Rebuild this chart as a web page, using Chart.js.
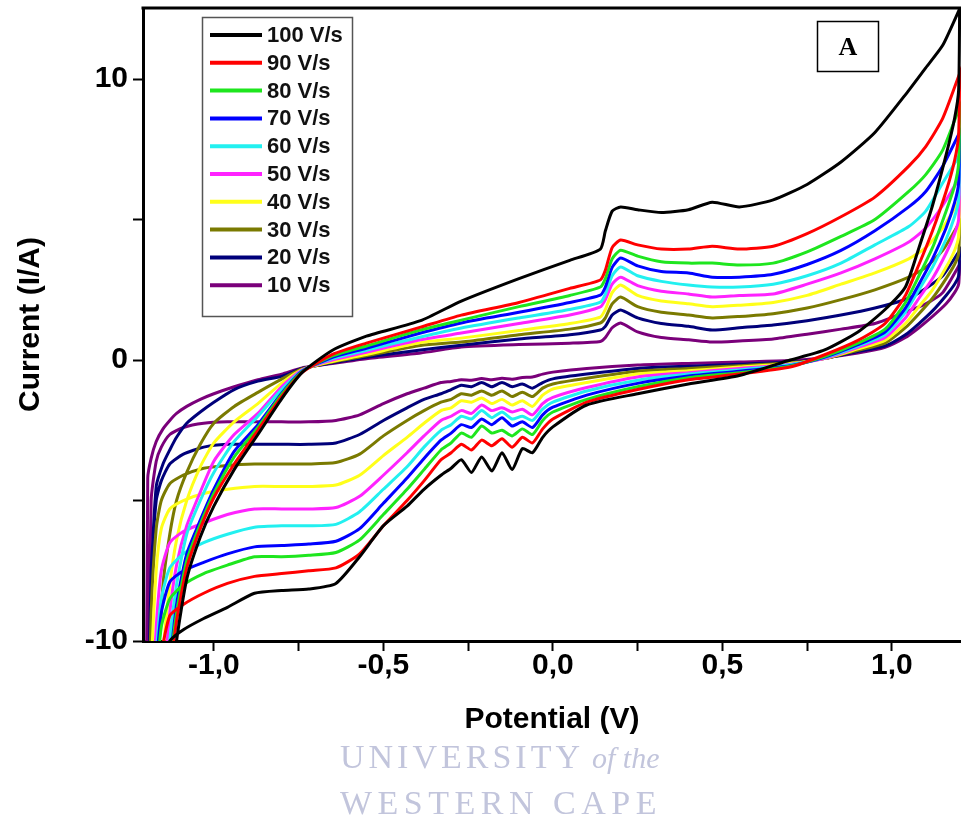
<!DOCTYPE html>
<html>
<head>
<meta charset="utf-8">
<script src="https://cdn.jsdelivr.net/npm/chart.js@4.4.1/dist/chart.umd.min.js"></script>
<style>
  html, body { margin: 0; padding: 0; background: #fff; }
  #wrap { width: 961px; height: 821px; }
</style>
</head>
<body>
<div id="wrap"><canvas id="cv" width="961" height="821"></canvas></div>
<script>
// ---------------- DATA ----------------
const scanRates = ['100 V/s', '90 V/s', '80 V/s', '70 V/s', '60 V/s', '50 V/s', '40 V/s', '30 V/s', '20 V/s', '10 V/s'];

// potential (V) of the anodic (forward) sweep, -1.2 -> 1.2
const potentialForward = [-1.2, -1.195, -1.185, -1.17, -1.15, -1.13, -1.11, -1.08, -1.04, -1.0, -0.94, -0.87, -0.8, -0.74,
  -0.65, -0.55, -0.39, -0.27, -0.1, 0.05, 0.14, 0.155, 0.175, 0.2, 0.25, 0.32, 0.4, 0.47, 0.55, 0.65, 0.75, 0.85, 0.95, 1.05, 1.1, 1.15, 1.2];

// potential (V) of the cathodic (reverse) sweep, 1.2 -> -1.2
const potentialReverse = [1.2, 1.197, 1.185, 1.16, 1.12, 1.08, 1.04, 0.98, 0.9, 0.8, 0.7, 0.55, 0.4, 0.25, 0.1, 0.0,
  -0.03, -0.06, -0.09, -0.12, -0.15, -0.18, -0.21, -0.24, -0.27, -0.3, -0.33, -0.38, -0.43, -0.5, -0.57, -0.64,
  -0.72, -0.8, -0.88, -0.96, -1.03, -1.09, -1.13, -1.155, -1.17, -1.185, -1.2];

// current (I/A), forward sweeps
const fwd100 = [-16, -16, -16, -16, -16, -12.5, -10, -7.8, -6.3, -5.2, -3.9, -2.65, -1.38, -0.45,
  0.35, 0.85, 1.4, 2.1, 2.9, 3.55, 3.95, 4.6, 5.3, 5.45, 5.35, 5.25, 5.35, 5.62, 5.45, 5.7, 6.25, 7.05, 8.1, 9.6, 10.4, 11.2, 12.5];
const fwd90 = [-16, -16, -16, -16, -16, -11.5, -9.3, -7.4, -6.0, -4.9, -3.7, -2.5, -1.3, -0.45,
  0.2, 0.6, 1.17, 1.6, 2.05, 2.55, 2.85, 3.2, 4.0, 4.27, 4.1, 3.95, 3.95, 4.05, 3.95, 4.05, 4.5, 5.1, 5.8, 6.9, 7.6, 8.6, 10.2];
const fwd80 = [-16, -16, -16, -16, -16, -11.2, -9.0, -7.15, -5.85, -4.75, -3.45, -2.4, -1.22, -0.42,
  0.15, 0.5, 1.07, 1.42, 1.9, 2.3, 2.6, 2.9, 3.6, 3.91, 3.7, 3.5, 3.45, 3.45, 3.38, 3.45, 3.85, 4.4, 5.0, 6.0, 6.6, 7.47, 9.0];
const fwd70 = [-16, -16, -16, -16, -16, -11, -8.7, -6.9, -5.7, -4.6, -3.25, -2.3, -1.18, -0.4,
  0.1, 0.42, 0.96, 1.32, 1.7, 2.05, 2.31, 2.6, 3.3, 3.63, 3.35, 3.15, 3.1, 2.95, 2.95, 3.05, 3.4, 3.9, 4.6, 5.45, 6.0, 6.9, 8.1];
const fwd60 = [-16, -16, -16, -16, -14, -10, -8.0, -6.2, -5.0, -4.0, -2.9, -2.0, -1.05, -0.38,
  0.05, 0.35, 0.82, 1.14, 1.5, 1.8, 2.06, 2.35, 3.0, 3.31, 3.0, 2.8, 2.67, 2.6, 2.6, 2.7, 3.0, 3.45, 4.1, 4.75, 5.3, 6.3, 7.3];
const fwd50 = [-16, -16, -16, -16, -12, -9.0, -7.3, -5.9, -4.7, -3.6, -2.65, -1.9, -0.95, -0.36,
  0.0, 0.28, 0.72, 0.96, 1.3, 1.6, 1.89, 2.15, 2.7, 2.95, 2.65, 2.45, 2.35, 2.24, 2.3, 2.35, 2.7, 3.1, 3.6, 4.2, 4.7, 5.5, 6.5];
const fwd40 = [-16, -16, -16, -16, -10.5, -8.0, -6.4, -5.0, -3.8, -2.95, -2.2, -1.55, -0.82, -0.34,
  -0.05, 0.2, 0.62, 0.78, 1.05, 1.3, 1.53, 1.8, 2.4, 2.67, 2.3, 2.1, 2.0, 1.9, 1.95, 2.05, 2.3, 2.7, 3.1, 3.6, 4.0, 4.7, 5.7];
const fwd30 = [-16, -16, -16, -12, -8.0, -6.2, -5.0, -4.0, -3.0, -2.25, -1.65, -1.15, -0.68, -0.32,
  -0.07, 0.15, 0.52, 0.64, 0.9, 1.1, 1.32, 1.5, 2.0, 2.24, 1.9, 1.7, 1.6, 1.5, 1.55, 1.65, 1.85, 2.15, 2.5, 2.95, 3.3, 3.9, 4.9];
const fwd20 = [-16, -13, -8, -4.5, -3.7, -3.2, -2.75, -2.25, -1.85, -1.5, -1.05, -0.75, -0.58, -0.3,
  -0.1, 0.1, 0.36, 0.53, 0.75, 0.9, 1.07, 1.2, 1.6, 1.78, 1.5, 1.3, 1.2, 1.07, 1.15, 1.25, 1.4, 1.6, 1.85, 2.2, 2.55, 3.0, 3.9];
const fwd10 = [-16, -4.2, -3.5, -2.9, -2.45, -2.15, -1.9, -1.65, -1.4, -1.2, -0.95, -0.7, -0.5, -0.28,
  -0.12, 0.05, 0.25, 0.46, 0.55, 0.6, 0.66, 0.8, 1.15, 1.32, 1.0, 0.8, 0.72, 0.64, 0.68, 0.75, 0.92, 1.1, 1.3, 1.75, 2.0, 2.4, 3.4];

// current (I/A), reverse sweeps
const rev100 = [12.5, 9.6, 8.6, 7.3, 5.5, 4.0, 2.6, 1.8, 1.0, 0.35, 0.0, -0.55, -0.85, -1.2, -1.6, -2.38,
  -2.75, -3.3, -3.15, -3.9, -3.3, -3.95, -3.45, -4.0, -3.55, -3.85, -4.1, -4.6, -5.2, -5.9, -7.0, -7.95,
  -8.15, -8.2, -8.3, -8.8, -9.2, -9.6, -10.0, -10.8, -12, -14, -16];
const rev90 = [10.2, 8.0, 7.1, 6.0, 4.6, 3.4, 2.3, 1.3, 0.7, 0.18, -0.25, -0.5, -0.7, -1.05, -1.5, -2.1,
  -2.45, -2.95, -2.75, -3.1, -2.8, -3.05, -2.85, -3.2, -3.0, -3.3, -3.55, -4.3, -5.0, -5.9, -6.9, -7.4,
  -7.5, -7.6, -7.7, -7.95, -8.3, -8.7, -9.1, -10.5, -12.5, -14.5, -16];
const rev80 = [9.0, 7.0, 6.2, 5.3, 4.0, 3.0, 2.05, 1.1, 0.6, 0.12, -0.22, -0.45, -0.63, -0.95, -1.4, -1.85,
  -2.15, -2.65, -2.45, -2.7, -2.5, -2.6, -2.35, -2.75, -2.6, -2.95, -3.2, -3.9, -4.6, -5.5, -6.4, -6.85,
  -6.95, -7.0, -7.0, -7.3, -7.6, -8.0, -8.5, -9.5, -11.5, -14, -16];
const rev70 = [8.1, 6.3, 5.6, 4.7, 3.6, 2.7, 1.85, 1.0, 0.55, 0.1, -0.2, -0.4, -0.57, -0.83, -1.25, -1.68,
  -1.95, -2.4, -2.2, -2.35, -2.05, -2.3, -2.1, -2.4, -2.3, -2.6, -2.85, -3.5, -4.2, -5.1, -6.0, -6.45,
  -6.55, -6.6, -6.65, -6.9, -7.2, -7.5, -7.9, -9.0, -11, -14, -16];
const rev60 = [7.3, 5.7, 5.1, 4.3, 3.3, 2.5, 1.7, 0.9, 0.5, 0.08, -0.17, -0.35, -0.5, -0.72, -1.1, -1.5,
  -1.75, -2.15, -2.0, -2.1, -1.85, -2.05, -1.8, -2.1, -2.0, -2.3, -2.5, -3.1, -3.8, -4.6, -5.4, -5.85,
  -5.9, -5.9, -5.95, -6.2, -6.5, -6.9, -7.4, -8.5, -10.5, -14, -16];
const rev50 = [6.5, 5.0, 4.5, 3.8, 2.9, 2.2, 1.5, 0.8, 0.45, 0.05, -0.15, -0.3, -0.45, -0.6, -0.98, -1.33,
  -1.55, -1.95, -1.75, -1.85, -1.7, -1.8, -1.6, -1.9, -1.8, -2.0, -2.15, -2.7, -3.3, -4.1, -4.85, -5.25,
  -5.3, -5.3, -5.3, -5.5, -5.8, -6.1, -6.5, -7.5, -9.5, -13, -16];
const rev40 = [5.7, 4.4, 3.9, 3.3, 2.5, 1.9, 1.3, 0.7, 0.4, 0.05, -0.12, -0.25, -0.38, -0.5, -0.8, -1.03,
  -1.25, -1.65, -1.45, -1.6, -1.4, -1.55, -1.35, -1.5, -1.45, -1.7, -1.8, -2.25, -2.75, -3.4, -4.1, -4.45,
  -4.5, -4.5, -4.5, -4.6, -4.75, -5.0, -5.3, -6.0, -7.5, -11, -16];
const rev30 = [4.9, 3.8, 3.4, 2.9, 2.2, 1.65, 1.15, 0.6, 0.35, 0.05, -0.1, -0.2, -0.3, -0.4, -0.65, -0.85,
  -1.0, -1.3, -1.15, -1.3, -1.1, -1.25, -1.1, -1.25, -1.2, -1.4, -1.5, -1.8, -2.15, -2.7, -3.35, -3.65,
  -3.7, -3.7, -3.7, -3.75, -3.85, -4.1, -4.4, -5.0, -6.0, -9, -16];
const rev20 = [3.9, 3.0, 2.7, 2.3, 1.75, 1.3, 0.9, 0.5, 0.3, 0.05, -0.07, -0.15, -0.22, -0.3, -0.5, -0.67,
  -0.8, -1.0, -0.85, -0.95, -0.8, -0.95, -0.8, -0.95, -0.9, -1.05, -1.2, -1.4, -1.7, -2.15, -2.65, -2.95,
  -3.0, -3.0, -3.0, -3.0, -3.1, -3.35, -3.7, -4.3, -5.0, -7.5, -16];
const rev10 = [3.4, 2.7, 2.4, 2.0, 1.55, 1.15, 0.8, 0.45, 0.25, 0.08, -0.02, -0.07, -0.12, -0.18, -0.3, -0.43,
  -0.5, -0.6, -0.62, -0.68, -0.65, -0.7, -0.66, -0.72, -0.7, -0.76, -0.8, -1.0, -1.2, -1.55, -1.95, -2.15,
  -2.2, -2.2, -2.2, -2.2, -2.25, -2.4, -2.65, -3.1, -3.6, -5, -16];

// axis ticks
const xTickValues = [-1.0, -0.75, -0.5, -0.25, 0.0, 0.25, 0.5, 0.75, 1.0];
const yTickValues = [-10, -5, 0, 5, 10];

// ---------------- STYLE ----------------
const seriesColors = ['#000000', '#ff0000', '#1ee61e', '#0000ff', '#22f0f0', '#ff22ff', '#ffff1a', '#7a7a00', '#00007a', '#7a007a'];
const forwardSets = [fwd100, fwd90, fwd80, fwd70, fwd60, fwd50, fwd40, fwd30, fwd20, fwd10];
const reverseSets = [rev100, rev90, rev80, rev70, rev60, rev50, rev40, rev30, rev20, rev10];

const FONT = "'Liberation Sans', Arial, Helvetica, sans-serif";
const SERIF = "'Liberation Serif', 'Times New Roman', Times, serif";

const datasets = scanRates.map((label, k) => ({
  label,
  data: forwardSets[k].map((c, i) => ({ x: potentialForward[i], y: c }))
        .concat(reverseSets[k].map((c, i) => ({ x: potentialReverse[i], y: c }))),
  borderColor: seriesColors[k],
  backgroundColor: seriesColors[k],
  borderWidth: 3,
  showLine: true,
  pointRadius: 0,
  tension: 0.2,
  fill: false
}));

const decor = {
  id: 'decor',
  beforeDraw(chart) {
    const c = chart.ctx;
    c.save();
    c.fillStyle = '#fff';
    c.fillRect(0, 0, chart.width, chart.height);
    c.restore();
  },
  afterDraw(chart) {
    const c = chart.ctx;
    const a = chart.chartArea;
    c.save();
    // top frame line
    c.strokeStyle = '#000';
    c.lineWidth = 3;
    c.beginPath();
    c.moveTo(a.left - 1.5, a.top);
    c.lineTo(a.right, a.top);
    c.stroke();

    // legend box
    const lx = a.left + 59, ly = a.top + 9;
    c.fillStyle = '#fff';
    c.fillRect(lx, ly, 150, 299);
    c.strokeStyle = '#555';
    c.lineWidth = 1.5;
    c.strokeRect(lx + 0.5, ly + 0.5, 150, 299);
    c.font = 'bold 22px ' + FONT;
    c.textBaseline = 'middle';
    c.textAlign = 'left';
    chart.data.datasets.forEach((ds, i) => {
      const y = ly + 18 + i * 27.8;
      c.strokeStyle = ds.borderColor;
      c.lineWidth = 4;
      c.beginPath();
      c.moveTo(lx + 8, y);
      c.lineTo(lx + 60, y);
      c.stroke();
      c.fillStyle = '#111';
      c.fillText(ds.label, lx + 65, y + 1);
    });

    // "A" panel label
    c.fillStyle = '#fff';
    c.fillRect(817, 21, 62, 51);
    c.strokeStyle = '#000';
    c.lineWidth = 1.5;
    c.strokeRect(817.5, 21.5, 61, 50);
    c.fillStyle = '#000';
    c.font = 'bold 26px ' + SERIF;
    c.textAlign = 'center';
    c.textBaseline = 'middle';
    c.fillText('A', 848, 48);

    // watermark
    c.fillStyle = '#c2c5dc';
    c.textAlign = 'left';
    c.textBaseline = 'alphabetic';
    c.font = '34px ' + SERIF;
    c.letterSpacing = '4px';
    c.fillText('UNIVERSITY', 340, 768);
    c.letterSpacing = '0px';
    c.font = 'italic 30px ' + SERIF;
    c.fillText('of the', 592, 768);
    c.font = '34px ' + SERIF;
    c.letterSpacing = '5.5px';
    c.fillText('WESTERN CAPE', 340, 814);
    c.restore();
  }
};

new Chart(document.getElementById('cv'), {
  type: 'scatter',
  data: { datasets },
  options: {
    responsive: false,
    animation: false,
    devicePixelRatio: 1,
    layout: { padding: { top: 8, right: 0, left: 0, bottom: 0 } },
    plugins: { legend: { display: false }, tooltip: { enabled: false } },
    scales: {
      x: {
        type: 'linear',
        min: -1.209,
        max: 1.204,
        afterBuildTicks: (s) => { s.ticks = xTickValues.map(v => ({ value: v })); },
        afterFit: (s) => { s.height = 180; s.paddingLeft = 0; s.paddingRight = 0; },
        ticks: {
          autoSkip: false,
          maxRotation: 0,
          padding: -3,
          color: '#000',
          font: { family: FONT, size: 30, weight: 'bold' },
          callback: (v) => (Math.abs(v * 2 - Math.round(v * 2)) < 1e-6 ? (Math.abs(v) < 1e-9 ? 0 : v).toFixed(1).replace('.', ',') : '')
        },
        grid: { drawOnChartArea: false, drawTicks: true, tickLength: 10, tickWidth: 2, tickColor: '#000' },
        border: { display: true, color: '#000', width: 3 },
        title: {
          display: true,
          text: 'Potential (V)',
          color: '#000',
          font: { family: FONT, size: 30, weight: 'bold' },
          padding: { top: 0, bottom: 83 }
        }
      },
      y: {
        type: 'linear',
        min: -10,
        max: 12.53,
        afterBuildTicks: (s) => { s.ticks = yTickValues.map(v => ({ value: v })); },
        afterFit: (s) => { s.width = 143; s.paddingTop = 0; s.paddingBottom = 0; },
        ticks: {
          autoSkip: false,
          padding: 5,
          color: '#000',
          font: { family: FONT, size: 30, weight: 'bold' },
          callback: (v) => (v % 10 === 0 ? String(v) : '')
        },
        grid: { drawOnChartArea: false, drawTicks: true, tickLength: 10, tickWidth: 2, tickColor: '#000' },
        border: { display: true, color: '#000', width: 3 },
        title: {
          display: true,
          text: 'Current (I/A)',
          color: '#000',
          font: { family: FONT, size: 30, weight: 'bold' },
          padding: { top: 13, bottom: 0 }
        }
      }
    }
  },
  plugins: [decor]
});
</script>
</body>
</html>
